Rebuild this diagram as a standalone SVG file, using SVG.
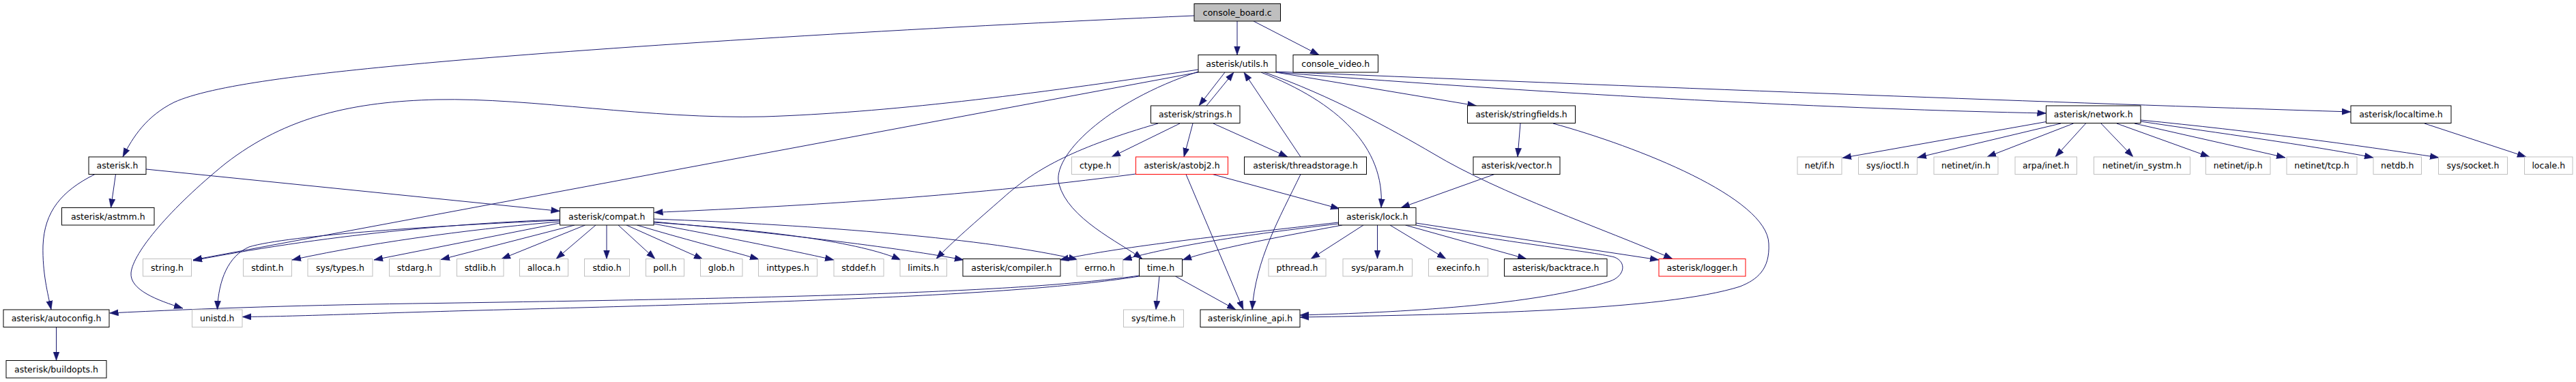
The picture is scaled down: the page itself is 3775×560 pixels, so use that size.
<svg xmlns="http://www.w3.org/2000/svg" width="3775" height="560" viewBox="0 0 3775 560">
<defs>
<style>
.n rect{fill:#fff;stroke:#000;stroke-width:1}
.g rect{stroke:#bfbfbf}
.r rect{stroke:#ff0000}
.root rect{fill:#bfbfbf}
text{font-family:"DejaVu Sans","Liberation Sans",sans-serif;font-size:12.5px;text-anchor:middle;fill:#000}
#edges path{fill:none;stroke:#191970;stroke-width:1;marker-end:url(#a)}
</style>
<marker id="a" markerUnits="userSpaceOnUse" markerWidth="13" markerHeight="10" viewBox="0 0 13 10" refX="13" refY="5" orient="auto"><path d="M0,0.4 L13,5 L0,9.6 Z" fill="#191970" stroke="#191970" stroke-width="0.5"/></marker>
</defs>
<rect width="3775" height="560" fill="#fff"/>
<g id="edges">
<path d="M1813,31 L1813,80.5"/>
<path d="M1837,31 L1933,80.5"/>
<path d="M1750,23 C1350,40 900,68 640,91 C450,108 310,125 255,150 C215,170 195,200 180,230"/>
<path d="M1795,106 L1757,155"/>
<path d="M1768,155 L1808,106"/>
<path d="M1906,230 L1823,106"/>
<path d="M1848,106 C1960,150 2030,215 2024,304.5"/>
<path d="M1870,106 L2163.5,155"/>
<path d="M1870,106 C2300,140 2700,160 2998.5,166"/>
<path d="M1870,105 C2500,131 3000,150 3445,164"/>
<path d="M1853,106 C1950,140 2040,190 2100,225 C2200,285 2350,335 2451,379.5"/>
<path d="M1756,105 C1620,150 1540,230 1552,270 C1565,320 1640,355 1674,379.5"/>
<path d="M1756,106 L283,381"/>
<path d="M1756,102 C1500,140 1300,165 1120,171 C950,175 780,143 640,146 C520,149 420,170 330,240 C250,305 195,370 192,400 C190,425 230,440 268,452"/>
<path d="M1697,181 C1580,215 1520,245 1470,290 C1430,325 1395,355 1372,379.5"/>
<path d="M1729,181 L1629,230"/>
<path d="M1748,181 L1735,230"/>
<path d="M1778,181 L1887,230"/>
<path d="M1906,255.5 C1875,320 1840,380 1835,454"/>
<path d="M1738,255.5 L1822,454"/>
<path d="M1777,255.5 L1963,306"/>
<path d="M1664.5,255 C1400,290 1150,303 958.5,311.5"/>
<path d="M214,248 L820.5,309.5"/>
<path d="M169.5,255.5 L162.5,304.5"/>
<path d="M139,255.5 C90,280 65,310 63,360 C62,400 70,430 75,454"/>
<path d="M82.5,479.5 L82.5,528.5"/>
<path d="M889,330 L889,379.5"/>
<path d="M873,330 L815,379.5"/>
<path d="M857.5,330 L735,379.5"/>
<path d="M842,330 L646,380.5"/>
<path d="M820.5,327 L548,381"/>
<path d="M820.5,325 C720,333 560,352 428,381"/>
<path d="M820.5,322 C700,326 500,340 283,382"/>
<path d="M820.5,323 C650,330 420,345 365,362 C335,375 320,410 318.5,454"/>
<path d="M906,330 L960,379.5"/>
<path d="M918,330 L1030,380"/>
<path d="M933.5,330 C1000,350 1060,365 1112,380"/>
<path d="M958,328 C1050,345 1150,365 1222,381"/>
<path d="M958,326 C1130,338 1260,355 1320,381"/>
<path d="M958,325 C1100,338 1300,360 1412,381"/>
<path d="M958,321 C1200,330 1450,350 1579,380.5"/>
<path d="M1998,330 L1921,379.5"/>
<path d="M2018.5,330 L2018.5,379.5"/>
<path d="M2037,330 L2119,379.5"/>
<path d="M2059.5,330 L2237,379.5"/>
<path d="M2075,327 L2431,381"/>
<path d="M2075,330 C2200,355 2330,368 2366,377 C2385,385 2380,405 2360,412 C2250,448 2050,458 1905,462"/>
<path d="M2276,181 C2400,215 2590,290 2592,357 C2594,395 2575,410 2550,420 C2440,455 2150,461 1905,465"/>
<path d="M1961.5,326 C1800,345 1650,360 1553,381"/>
<path d="M1961.5,328 C1820,345 1720,360 1645.5,381"/>
<path d="M1967,330 C1860,350 1780,365 1733,381"/>
<path d="M2190,255.5 L2053,304.5"/>
<path d="M2228,181 L2224,230"/>
<path d="M1699,405 L1694,454"/>
<path d="M1722.5,405 L1811,454"/>
<path d="M1669.5,404 C1500,428 1200,436 640,444.5 C450,447 300,452 160.5,459"/>
<path d="M1669.5,405 C1500,432 1200,442 700,455 C550,459 430,464 355,464.5"/>
<path d="M2998.5,178.5 L2700,231.5"/>
<path d="M3020,181 L2810,231"/>
<path d="M3038.5,181 L2912,230"/>
<path d="M3056.5,181 L3012,230"/>
<path d="M3079,181 L3126,230"/>
<path d="M3102,181 L3238,230"/>
<path d="M3128,181 L3349,231"/>
<path d="M3137,178 C3250,195 3380,212 3478,231"/>
<path d="M3137,176 C3300,192 3450,212 3574,231"/>
<path d="M3553,181 L3702,230"/>
</g>
<g id="node-console_board" class="n root"><rect x="1750" y="5.5" width="126.5" height="25.5"/><text x="1813.25" y="22.5">console_board.c</text></g>
<g id="node-utils" class="n"><rect x="1756" y="80.5" width="114" height="25.5"/><text x="1813" y="97.5">asterisk/utils.h</text></g>
<g id="node-console_video" class="n"><rect x="1895" y="80.5" width="124.5" height="25.5"/><text x="1957.25" y="97.5">console_video.h</text></g>
<g id="node-strings" class="n"><rect x="1686.5" y="155" width="130.5" height="25.5"/><text x="1751.75" y="172">asterisk/strings.h</text></g>
<g id="node-stringfields" class="n"><rect x="2150.5" y="155" width="158" height="25.5"/><text x="2229.5" y="172">asterisk/stringfields.h</text></g>
<g id="node-network" class="n"><rect x="2998.5" y="155" width="138.5" height="25.5"/><text x="3067.75" y="172">asterisk/network.h</text></g>
<g id="node-localtime" class="n"><rect x="3445" y="155" width="147" height="25.5"/><text x="3518.5" y="172">asterisk/localtime.h</text></g>
<g id="node-asterisk" class="n"><rect x="130" y="230" width="84" height="25.5"/><text x="172" y="247">asterisk.h</text></g>
<g id="node-ctype" class="n g"><rect x="1570.5" y="230" width="69.5" height="25.5"/><text x="1605.25" y="247">ctype.h</text></g>
<g id="node-astobj2" class="n r"><rect x="1664.5" y="230" width="135" height="25.5"/><text x="1732" y="247">asterisk/astobj2.h</text></g>
<g id="node-threadstorage" class="n"><rect x="1823.5" y="230" width="179" height="25.5"/><text x="1913" y="247">asterisk/threadstorage.h</text></g>
<g id="node-vector" class="n"><rect x="2159" y="230" width="127" height="25.5"/><text x="2222.5" y="247">asterisk/vector.h</text></g>
<g id="node-net_if" class="n g"><rect x="2634" y="230" width="65" height="25.5"/><text x="2666.5" y="247">net/if.h</text></g>
<g id="node-sys_ioctl" class="n g"><rect x="2723.5" y="230" width="86" height="25.5"/><text x="2766.5" y="247">sys/ioctl.h</text></g>
<g id="node-netinet_in" class="n g"><rect x="2834" y="230" width="94" height="25.5"/><text x="2881" y="247">netinet/in.h</text></g>
<g id="node-arpa_inet" class="n g"><rect x="2953" y="230" width="90.5" height="25.5"/><text x="2998.25" y="247">arpa/inet.h</text></g>
<g id="node-netinet_in_systm" class="n g"><rect x="3068.5" y="230" width="141" height="25.5"/><text x="3139" y="247">netinet/in_systm.h</text></g>
<g id="node-netinet_ip" class="n g"><rect x="3232.5" y="230" width="94.5" height="25.5"/><text x="3279.75" y="247">netinet/ip.h</text></g>
<g id="node-netinet_tcp" class="n g"><rect x="3351" y="230" width="103" height="25.5"/><text x="3402.5" y="247">netinet/tcp.h</text></g>
<g id="node-netdb" class="n g"><rect x="3478" y="230" width="70.5" height="25.5"/><text x="3513.25" y="247">netdb.h</text></g>
<g id="node-sys_socket" class="n g"><rect x="3573.5" y="230" width="101" height="25.5"/><text x="3624" y="247">sys/socket.h</text></g>
<g id="node-locale" class="n g"><rect x="3699.5" y="230" width="70.5" height="25.5"/><text x="3734.75" y="247">locale.h</text></g>
<g id="node-astmm" class="n"><rect x="90.5" y="304.5" width="135.5" height="25.5"/><text x="158.25" y="321.5">asterisk/astmm.h</text></g>
<g id="node-compat" class="n"><rect x="820.5" y="304.5" width="137.5" height="25.5"/><text x="889.25" y="321.5">asterisk/compat.h</text></g>
<g id="node-lock" class="n"><rect x="1961.5" y="304.5" width="113.5" height="25.5"/><text x="2018.25" y="321.5">asterisk/lock.h</text></g>
<g id="node-string" class="n g"><rect x="209.5" y="379.5" width="71" height="25.5"/><text x="245" y="396.5">string.h</text></g>
<g id="node-stdint" class="n g"><rect x="356.5" y="379.5" width="71" height="25.5"/><text x="392" y="396.5">stdint.h</text></g>
<g id="node-sys_types" class="n g"><rect x="451" y="379.5" width="95" height="25.5"/><text x="498.5" y="396.5">sys/types.h</text></g>
<g id="node-stdarg" class="n g"><rect x="570.5" y="379.5" width="74.5" height="25.5"/><text x="607.75" y="396.5">stdarg.h</text></g>
<g id="node-stdlib" class="n g"><rect x="669.5" y="379.5" width="68.5" height="25.5"/><text x="703.75" y="396.5">stdlib.h</text></g>
<g id="node-alloca" class="n g"><rect x="761.5" y="379.5" width="71" height="25.5"/><text x="797" y="396.5">alloca.h</text></g>
<g id="node-stdio" class="n g"><rect x="856.5" y="379.5" width="66" height="25.5"/><text x="889.5" y="396.5">stdio.h</text></g>
<g id="node-poll" class="n g"><rect x="946.5" y="379.5" width="56" height="25.5"/><text x="974.5" y="396.5">poll.h</text></g>
<g id="node-glob" class="n g"><rect x="1026.5" y="379.5" width="61.5" height="25.5"/><text x="1057.25" y="396.5">glob.h</text></g>
<g id="node-inttypes" class="n g"><rect x="1111.5" y="379.5" width="86" height="25.5"/><text x="1154.5" y="396.5">inttypes.h</text></g>
<g id="node-stddef" class="n g"><rect x="1222" y="379.5" width="73" height="25.5"/><text x="1258.5" y="396.5">stddef.h</text></g>
<g id="node-limits" class="n g"><rect x="1319" y="379.5" width="68.5" height="25.5"/><text x="1353.25" y="396.5">limits.h</text></g>
<g id="node-compiler" class="n"><rect x="1411" y="379.5" width="143" height="25.5"/><text x="1482.5" y="396.5">asterisk/compiler.h</text></g>
<g id="node-errno" class="n g"><rect x="1578" y="379.5" width="67.5" height="25.5"/><text x="1611.75" y="396.5">errno.h</text></g>
<g id="node-time" class="n"><rect x="1669.5" y="379.5" width="63" height="25.5"/><text x="1701" y="396.5">time.h</text></g>
<g id="node-pthread" class="n g"><rect x="1859" y="379.5" width="84" height="25.5"/><text x="1901" y="396.5">pthread.h</text></g>
<g id="node-sys_param" class="n g"><rect x="1968" y="379.5" width="101.5" height="25.5"/><text x="2018.75" y="396.5">sys/param.h</text></g>
<g id="node-execinfo" class="n g"><rect x="2093.5" y="379.5" width="87" height="25.5"/><text x="2137" y="396.5">execinfo.h</text></g>
<g id="node-backtrace" class="n"><rect x="2204.5" y="379.5" width="150.5" height="25.5"/><text x="2279.75" y="396.5">asterisk/backtrace.h</text></g>
<g id="node-logger" class="n r"><rect x="2431" y="379.5" width="127" height="25.5"/><text x="2494.5" y="396.5">asterisk/logger.h</text></g>
<g id="node-autoconfig" class="n"><rect x="5" y="454" width="155" height="25.5"/><text x="82.5" y="471">asterisk/autoconfig.h</text></g>
<g id="node-unistd" class="n g"><rect x="281.5" y="454" width="73.5" height="25.5"/><text x="318.25" y="471">unistd.h</text></g>
<g id="node-sys_time" class="n g"><rect x="1646.5" y="454" width="88" height="25.5"/><text x="1690.5" y="471">sys/time.h</text></g>
<g id="node-inline_api" class="n"><rect x="1759" y="454" width="146" height="25.5"/><text x="1832" y="471">asterisk/inline_api.h</text></g>
<g id="node-buildopts" class="n"><rect x="9" y="528.5" width="147" height="25.5"/><text x="82.5" y="545.5">asterisk/buildopts.h</text></g>
</svg>
